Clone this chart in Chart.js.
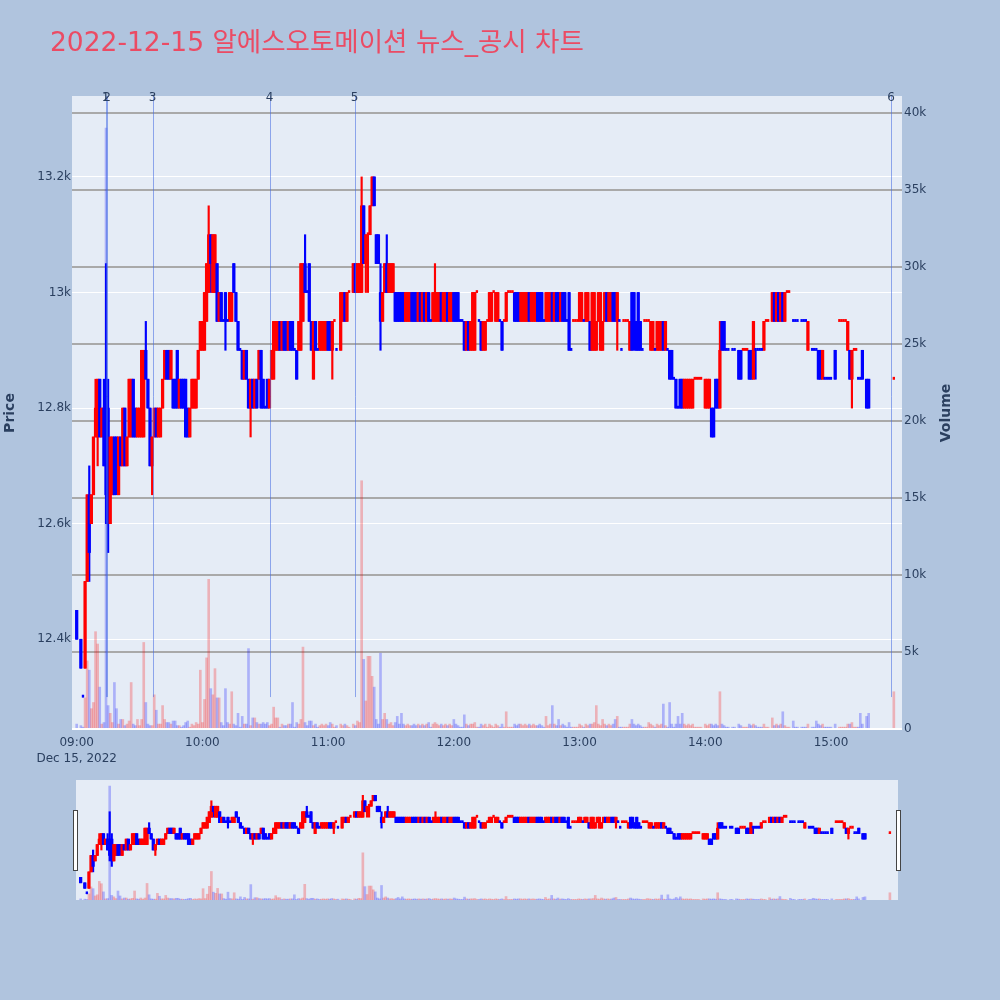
<!DOCTYPE html>
<html>
<head>
<meta charset="utf-8">
<title>2022-12-15 알에스오토메이션 뉴스_공시 차트</title>
<script src="https://cdn.jsdelivr.net/npm/chart.js@4.4.1/dist/chart.umd.min.js"></script>
<style>
  html, body { margin:0; padding:0; background:#B0C4DE; }
  body { width:1000px; height:1000px; position:relative; overflow:hidden; }
  #main { position:absolute; left:0; top:0; width:1000px; height:775px; }
  #mini { position:absolute; left:66px; top:774px; width:842px; height:132px; }
</style>
</head>
<body>
<canvas id="main" width="1000" height="775"></canvas>
<canvas id="mini" width="842" height="132"></canvas>
<script>
const chartTitle = "2022-12-15 알에스오토메이션 뉴스_공시 차트";

const times = [
"09:00","09:01","09:02","09:03","09:04","09:05","09:06","09:07","09:08","09:09",
"09:10","09:11","09:12","09:13","09:14","09:15","09:16","09:17","09:18","09:19",
"09:20","09:21","09:22","09:23","09:24","09:25","09:26","09:27","09:28","09:29",
"09:30","09:31","09:32","09:33","09:34","09:35","09:36","09:37","09:38","09:39",
"09:40","09:41","09:42","09:43","09:44","09:45","09:46","09:47","09:48","09:49",
"09:50","09:51","09:52","09:53","09:54","09:55","09:56","09:57","09:58","09:59",
"10:00","10:01","10:02","10:03","10:04","10:05","10:06","10:07","10:08","10:09",
"10:10","10:11","10:12","10:13","10:14","10:15","10:16","10:17","10:18","10:19",
"10:20","10:21","10:22","10:23","10:24","10:25","10:26","10:27","10:28","10:29",
"10:30","10:31","10:32","10:33","10:34","10:35","10:36","10:37","10:38","10:39",
"10:40","10:41","10:42","10:43","10:44","10:45","10:46","10:47","10:48","10:49",
"10:50","10:51","10:52","10:53","10:54","10:55","10:56","10:57","10:58","10:59",
"11:00","11:01","11:02","11:03","11:04","11:05","11:06","11:07","11:08","11:09",
"11:10","11:11","11:12","11:13","11:14","11:15","11:16","11:17","11:18","11:19",
"11:20","11:21","11:22","11:23","11:24","11:25","11:26","11:27","11:28","11:29",
"11:30","11:31","11:32","11:33","11:34","11:35","11:36","11:37","11:38","11:39",
"11:40","11:41","11:42","11:43","11:44","11:45","11:46","11:47","11:48","11:49",
"11:50","11:51","11:52","11:53","11:54","11:55","11:56","11:57","11:58","11:59",
"12:00","12:01","12:02","12:03","12:04","12:05","12:06","12:07","12:08","12:09",
"12:10","12:11","12:12","12:13","12:14","12:15","12:16","12:17","12:18","12:19",
"12:20","12:21","12:22","12:23","12:24","12:25","12:26","12:27","12:28","12:29",
"12:30","12:31","12:32","12:33","12:34","12:35","12:36","12:37","12:38","12:39",
"12:40","12:41","12:42","12:43","12:44","12:45","12:46","12:47","12:48","12:49",
"12:50","12:51","12:52","12:53","12:54","12:55","12:56","12:57","12:58","12:59",
"13:00","13:01","13:02","13:03","13:04","13:05","13:06","13:07","13:08","13:09",
"13:10","13:11","13:12","13:13","13:14","13:15","13:16","13:17","13:18","13:19",
"13:20","13:21","13:22","13:23","13:24","13:25","13:26","13:27","13:28","13:29",
"13:30","13:31","13:32","13:33","13:34","13:35","13:36","13:37","13:38","13:39",
"13:40","13:41","13:42","13:43","13:44","13:45","13:46","13:47","13:48","13:49",
"13:50","13:51","13:52","13:53","13:54","13:55","13:56","13:57","13:58","13:59",
"14:00","14:01","14:02","14:03","14:04","14:05","14:06","14:07","14:08","14:09",
"14:10","14:11","14:12","14:13","14:14","14:15","14:16","14:17","14:18","14:19",
"14:20","14:21","14:22","14:23","14:24","14:25","14:26","14:27","14:28","14:29",
"14:30","14:31","14:32","14:33","14:34","14:35","14:36","14:37","14:38","14:39",
"14:40","14:41","14:42","14:43","14:44","14:45","14:46","14:47","14:48","14:49",
"14:50","14:51","14:52","14:53","14:54","14:55","14:56","14:57","14:58","14:59",
"15:00","15:01","15:02","15:03","15:04","15:05","15:06","15:07","15:08","15:09",
"15:10","15:11","15:12","15:13","15:14","15:15","15:16","15:17","15:18","15:19",
"15:20","15:21","15:22","15:23","15:24","15:25","15:26","15:27","15:28","15:29",
"15:30"
];

const open = [
12450,null,12400,12300,12350,12500,12650,12600,12650,12750,
12750,12850,12750,12800,12800,12800,12600,12650,12750,12750,
12650,12750,12700,12800,12700,12750,12750,12850,12800,12750,
12750,12750,12750,12900,12850,12800,12700,12750,12800,12750,
12750,12800,12850,12900,12900,12850,12850,12850,12900,12800,
12850,12850,12850,12800,12750,12800,12800,12800,12850,12900,
12900,12900,12950,13000,13100,13000,13000,13050,12950,13000,
12950,13000,12950,12950,12950,13050,13000,12950,12900,12900,
12850,12900,12850,12800,12850,12800,12850,12850,12900,12850,
12800,12850,12800,12850,12850,12900,12900,12950,12900,12950,
12950,12900,12950,12950,12900,12900,12900,12900,12950,13050,
13000,13050,12950,12850,12950,12900,12900,12900,12900,12900,
12950,12950,12900,12950,12900,null,12900,12950,13000,12950,
13000,null,13000,13050,13000,13000,13000,13150,13050,13100,
13100,13150,13200,13100,13100,13000,12950,13000,13050,13000,
13000,13000,13000,13000,13000,13000,13000,12950,12950,12950,
13000,13000,13000,12950,13000,12950,13000,12950,13000,12950,
12950,12950,12950,12950,13000,12950,12950,13000,12950,12950,
13000,13000,13000,12950,12950,12950,12900,12950,12900,12900,
12900,13000,12950,12950,12900,12900,12950,12950,12950,13000,
12950,12950,12950,12950,12950,12950,13000,13000,13000,13000,
13000,13000,12950,12950,12950,12950,13000,12950,12950,12950,
13000,13000,13000,12950,12950,12950,12950,13000,12950,13000,
13000,12950,13000,13000,12950,13000,12900,12950,12950,12950,
12950,12950,12950,12950,12950,12950,12900,12900,12900,12950,
12900,12900,12950,13000,12950,12950,13000,13000,12950,12950,
12900,12950,12950,12950,12900,13000,13000,12950,13000,12950,
12900,12950,12950,12950,12900,12900,12900,12900,12900,12900,
12950,12900,12900,12900,12900,12850,12850,12800,12850,12850,
12800,12800,12800,12800,12800,12850,12850,12850,12850,null,
12800,12800,12800,12800,12800,12850,12850,12800,12950,12950,
12900,12900,null,12900,12900,null,12900,12900,12900,12900,
12900,12900,12900,12850,12900,12900,12900,12900,12900,12950,
12950,null,12950,13000,12950,13000,12950,13000,12950,13000,
13000,null,12950,12950,12950,null,12950,12950,12950,12900,
null,12900,12900,12900,12900,12900,12850,12850,12850,12850,
12850,null,12900,null,12950,12950,12950,12950,12900,12900,
12850,12900,12900,12850,12850,12900,null,12850,12850,null,
null,null,null,null,null,null,null,null,null,null,
12850
];

const high = [
12450,null,12400,12300,12500,12650,12700,12650,12750,12850,
12850,12850,12800,12850,13050,12850,12750,12750,12750,12750,
12750,12750,12800,12800,12750,12850,12850,12850,12800,12800,
12800,12900,12900,12950,12850,12800,12750,12800,12800,12800,
12800,12850,12900,12900,12900,12900,12850,12850,12900,12850,
12850,12850,12850,12800,12800,12850,12850,12850,12900,12950,
12950,13000,13050,13150,13100,13100,13100,13050,13000,13000,
12950,13000,12950,13000,13000,13050,13000,12950,12900,12900,
12900,12900,12850,12850,12850,12850,12850,12900,12900,12850,
12800,12850,12850,12900,12950,12950,12950,12950,12950,12950,
12950,12950,12950,12950,12900,12900,12950,13050,13050,13100,
13000,13050,12950,12950,12950,12900,12950,12950,12950,12950,
12950,12950,12950,12950,12900,null,13000,13000,13000,13000,
13000,null,13050,13050,13050,13050,13200,13150,13100,13100,
13150,13200,13200,13100,13100,13050,13000,13050,13100,13050,
13050,13050,13000,13000,13000,13000,13000,13000,13000,13000,
13000,13000,13000,13000,13000,13000,13000,13000,13000,12950,
13000,13050,13000,13000,13000,13000,13000,13000,13000,13000,
13000,13000,13000,12950,12950,12950,12950,12950,12950,13000,
13000,13000,12950,12950,12950,12950,12950,13000,13000,13000,
13000,13000,12950,12950,12950,13000,13000,13000,13000,13000,
13000,13000,13000,13000,13000,13000,13000,13000,13000,13000,
13000,13000,13000,12950,13000,13000,13000,13000,13000,13000,
13000,13000,13000,13000,12950,13000,12900,12950,12950,12950,
13000,13000,12950,13000,13000,12950,13000,13000,12950,13000,
13000,12950,13000,13000,13000,13000,13000,13000,13000,12950,
12900,12950,12950,12950,12950,13000,13000,12950,13000,12950,
12900,12950,12950,12950,12950,12950,12900,12950,12950,12950,
12950,12950,12900,12900,12900,12850,12850,12800,12850,12850,
12850,12850,12850,12850,12850,12850,12850,12850,12850,null,
12850,12850,12850,12800,12800,12850,12850,12950,12950,12950,
12900,12900,null,12900,12900,null,12900,12900,12900,12900,
12900,12900,12900,12950,12900,12900,12900,12900,12950,12950,
12950,null,13000,13000,13000,13000,13000,13000,13000,13000,
13000,null,12950,12950,12950,null,12950,12950,12950,12950,
null,12900,12900,12900,12900,12900,12900,12850,12850,12850,
12850,null,12900,null,12950,12950,12950,12950,12950,12900,
12900,12900,12900,12850,12850,12900,null,12850,12850,null,
null,null,null,null,null,null,null,null,null,null,
12850
];

const low = [
12400,null,12350,12300,12350,12500,12500,12600,12650,12750,
12700,12750,12750,12700,12600,12550,12600,12650,12650,12650,
12650,12700,12700,12700,12700,12750,12750,12750,12750,12750,
12750,12750,12750,12850,12800,12700,12650,12750,12750,12750,
12750,12800,12850,12850,12850,12850,12800,12800,12800,12800,
12800,12800,12750,12750,12750,12800,12800,12800,12850,12900,
12900,12900,12950,13000,13000,13000,13000,12950,12950,12950,
12950,12900,12950,12950,12950,13000,12950,12900,12900,12850,
12850,12850,12800,12750,12800,12800,12800,12850,12800,12800,
12800,12800,12800,12850,12850,12900,12900,12900,12900,12900,
12900,12900,12900,12900,12900,12850,12900,12900,12950,13000,
13000,12950,12900,12850,12900,12900,12900,12900,12900,12900,
12900,12900,12850,12950,12900,null,12900,12950,12950,12950,
13000,null,13000,13000,13000,13000,13000,13050,13000,13000,
13100,13150,13150,13050,13050,12900,12950,13000,13000,13000,
13000,13000,12950,12950,12950,12950,12950,12950,12950,12950,
12950,12950,12950,12950,12950,12950,12950,12950,12950,12950,
12950,12950,12950,12950,12950,12950,12950,12950,12950,12950,
12950,12950,12950,12950,12950,12900,12900,12900,12900,12900,
12900,13000,12950,12900,12900,12900,12950,12950,12950,13000,
12950,12950,12950,12900,12950,12950,13000,13000,13000,12950,
12950,12950,12950,12950,12950,12950,12950,12950,12950,12950,
12950,12950,12950,12950,12950,12950,12950,12950,12950,12950,
12950,12950,12950,12950,12950,12900,12900,12950,12950,12950,
12950,12950,12950,12950,12950,12900,12900,12900,12900,12950,
12900,12900,12950,12950,12950,12950,12950,12950,12900,12950,
12900,12950,12950,12950,12900,12900,12900,12900,12900,12900,
12900,12950,12950,12950,12900,12900,12900,12900,12900,12900,
12900,12900,12900,12850,12850,12850,12800,12800,12800,12800,
12800,12800,12800,12800,12800,12850,12850,12850,12850,null,
12800,12800,12800,12750,12750,12800,12800,12800,12900,12900,
12900,12900,null,12900,12900,null,12850,12850,12900,12900,
12900,12850,12850,12850,12850,12900,12900,12900,12900,12950,
12950,null,12950,12950,12950,12950,12950,12950,12950,13000,
13000,null,12950,12950,12950,null,12950,12950,12950,12900,
null,12900,12900,12900,12850,12850,12850,12850,12850,12850,
12850,null,12850,null,12950,12950,12950,12950,12900,12850,
12800,12900,12900,12850,12850,12850,null,12800,12800,null,
null,null,null,null,null,null,null,null,null,null,
12850
];

const close = [
12400,null,12350,12300,12500,12650,12550,12650,12750,12800,
12850,12750,12800,12700,12650,12600,12750,12750,12650,12700,
12750,12700,12800,12700,12750,12850,12850,12750,12750,12800,
12800,12900,12900,12850,12800,12700,12750,12800,12750,12800,
12800,12850,12900,12850,12850,12900,12800,12800,12800,12850,
12800,12800,12750,12750,12800,12850,12850,12850,12900,12950,
12950,13000,13050,13100,13050,13100,13100,12950,13000,12950,
12950,12950,12950,13000,13000,13000,12950,12900,12900,12850,
12900,12850,12800,12850,12800,12850,12800,12900,12800,12800,
12800,12800,12850,12900,12950,12950,12950,12900,12950,12900,
12900,12950,12900,12900,12900,12850,12950,13050,13050,13000,
13000,12950,12900,12950,12900,12900,12950,12950,12950,12950,
12900,12900,12950,12950,12900,null,13000,13000,12950,13000,
13000,null,13050,13000,13050,13050,13150,13050,13100,13100,
13150,13200,13150,13050,13050,12950,13000,13050,13000,13050,
13050,13050,12950,12950,12950,12950,12950,13000,13000,13000,
12950,12950,12950,13000,12950,13000,12950,13000,12950,12950,
13000,13000,13000,13000,12950,13000,13000,12950,13000,13000,
12950,12950,12950,12950,12950,12900,12950,12900,12950,13000,
13000,13000,12950,12900,12950,12950,12950,13000,13000,13000,
13000,13000,12950,12900,12950,13000,13000,13000,13000,12950,
12950,12950,13000,13000,13000,13000,12950,13000,13000,13000,
12950,12950,12950,12950,13000,13000,13000,12950,13000,12950,
12950,13000,12950,12950,12950,12900,12900,12950,12950,12950,
13000,13000,12950,13000,13000,12900,13000,13000,12950,13000,
13000,12950,13000,12950,13000,13000,12950,12950,13000,12950,
12900,12950,12950,12950,12950,12900,12950,12900,12900,12900,
12900,12950,12950,12950,12950,12950,12900,12950,12950,12950,
12900,12950,12900,12850,12850,12850,12800,12800,12800,12800,
12850,12850,12850,12850,12850,12850,12850,12850,12850,null,
12850,12850,12850,12750,12750,12800,12800,12900,12900,12900,
12900,12900,null,12900,12900,null,12850,12850,12900,12900,
12900,12850,12850,12950,12900,12900,12900,12900,12950,12950,
12950,null,13000,12950,13000,12950,13000,12950,13000,13000,
13000,null,12950,12950,12950,null,12950,12950,12950,12950,
null,12900,12900,12900,12850,12850,12900,12850,12850,12850,
12850,null,12850,null,12950,12950,12950,12950,12950,12850,
12900,12900,12900,12850,12850,12850,null,12800,12800,null,
null,null,null,null,null,null,null,null,null,null,
12850
];

const volume = [
300,null,200,100,2000,4400,3800,1300,1700,6300,
5500,2700,300,400,39000,1500,1000,400,3000,1300,
300,600,600,200,300,500,3000,300,200,600,
200,600,5600,1700,300,200,200,2200,1200,300,
300,1500,600,400,400,300,500,500,200,200,
100,200,400,500,100,300,200,400,300,3800,
400,1900,4600,9700,2600,2200,3900,2000,2000,400,
200,2600,400,300,2400,300,200,1000,100,800,
300,300,5200,200,700,700,400,300,300,400,
300,400,200,300,1400,700,700,100,300,200,
200,300,300,1700,100,400,300,600,5300,400,
200,500,500,200,300,100,200,300,200,300,
200,400,300,100,200,null,300,200,300,200,
100,null,300,200,500,400,16100,4500,1800,4700,
4700,3400,2700,600,300,4900,600,1000,600,300,
400,200,400,800,300,1000,300,200,300,200,
200,300,200,300,200,300,200,300,400,100,
300,400,300,200,300,200,300,200,300,200,
600,300,200,100,100,900,300,200,300,300,
400,100,100,300,200,300,100,300,200,100,
300,200,100,300,100,1100,100,100,100,300,
200,300,300,200,300,200,300,200,300,200,
200,300,200,100,800,200,300,1500,300,200,
600,200,300,200,100,400,100,100,100,100,
300,200,100,300,200,300,300,400,1500,300,
200,600,300,200,300,200,300,600,800,100,
100,100,100,100,300,600,300,200,300,200,
100,100,100,400,300,200,100,300,200,300,
1600,200,100,1700,300,100,300,800,300,1000,
300,200,300,200,300,100,100,100,100,null,
300,200,300,300,200,300,200,2400,300,200,
100,100,null,100,100,null,300,200,100,100,
100,300,200,300,200,100,100,100,300,100,
100,null,700,200,300,200,300,1100,200,100,
100,null,500,100,100,null,100,100,100,300,
null,100,100,500,300,200,300,100,100,100,
100,null,300,null,100,100,100,100,300,300,
400,100,100,100,1000,300,null,800,1000,null,
null,null,null,null,null,null,null,null,null,null,
2400
];

const priceTicks = [12400, 12600, 12800, 13000, 13200];
const volumeTicks = [0, 5000, 10000, 15000, 20000, 25000, 30000, 35000, 40000];
const hourTicks = ["09:00", "10:00", "11:00", "12:00", "13:00", "14:00", "15:00"];
const dateLabel = "Dec 15, 2022";
const newsTimes = ["09:13:45", "09:14:30", "09:36:15", "10:32:05", "11:12:40", "15:28:40"];
const newsLabels = ["1", "2", "3", "4", "5", "6"];

// ---------- helpers ----------
const toMin = t => { const p = t.split(':').map(Number); return (p[0] - 9) * 60 + p[1] + (p[2] || 0) / 60; };
const xs = times.map(toMin);
const dayLow = Math.min(...low.filter(v => v !== null));

// plotly-like direction: close vs open, ties resolved by previous close
const isUp = [];
(function () {
  let prev = null, inc = true;
  for (let i = 0; i < close.length; i++) {
    const o = open[i], c = close[i];
    if (o !== null && c !== null) {
      if (c > o) inc = true;
      else if (c < o) inc = false;
      else if (prev !== null && c !== prev) inc = c > prev;
      prev = c;
    }
    isUp.push(inc);
  }
})();

const UP = '#FF0000', DOWN = '#0000FF';
const UP_V = 'rgba(255,0,0,0.25)', DOWN_V = 'rgba(0,0,255,0.25)';

function makeDatasets() {
  const idx = xs.map((x, i) => i).filter(i => open[i] !== null);
  const moving = idx.filter(i => open[i] !== close[i]);
  const flat = idx.filter(i => open[i] === close[i]);
  return [
    { type: 'bar', label: 'Volume', yAxisID: 'y1', order: 4, grouped: false, barThickness: 2,
      data: idx.map(i => ({ x: xs[i], y: volume[i], i })),
      backgroundColor: c => (isUp[c.raw.i] ? UP_V : DOWN_V) },
    { type: 'bar', label: 'Range', yAxisID: 'y', order: 3, grouped: false, barThickness: 1.5,
      data: idx.map(i => ({ x: xs[i], y: [low[i], high[i]], i })),
      backgroundColor: c => (isUp[c.raw.i] ? UP : DOWN) },
    { type: 'bar', label: 'Body', yAxisID: 'y', order: 2, grouped: false, barThickness: 2.6,
      data: moving.map(i => ({ x: xs[i], y: [open[i], close[i]], i })),
      backgroundColor: c => (isUp[c.raw.i] ? UP : DOWN) },
    { type: 'bar', label: 'Flat', yAxisID: 'y', order: 1, grouped: false, barThickness: 1.7, minBarLength: 2,
      data: flat.map(i => ({ x: xs[i], y: [open[i], close[i]], i })),
      backgroundColor: c => (isUp[c.raw.i] ? UP : DOWN) }
  ];
}

const X_MIN = -2.24, X_MAX = 393.9;
const P_MIN = 12243, P_MAX = 13340;
const V_MIN = -84, V_MAX = 41084;

Chart.defaults.font.family = '"DejaVu Sans", "Noto Sans CJK KR", sans-serif';
Chart.defaults.font.size = 12;
Chart.defaults.color = '#2a3f5f';

const plotBg = {
  id: 'plotBg',
  beforeDraw(chart) {
    const { ctx, chartArea: a } = chart;
    ctx.save();
    ctx.fillStyle = '#E5ECF6';
    ctx.fillRect(a.left, a.top, a.right - a.left, a.bottom - a.top);
    ctx.restore();
  }
};

const newsLines = {
  id: 'newsLines',
  afterDatasetsDraw(chart) {
    const { ctx, chartArea: a, scales } = chart;
    const yLow = scales.y.getPixelForValue(dayLow);
    ctx.save();
    ctx.strokeStyle = 'rgba(65,105,225,0.55)';
    ctx.lineWidth = 1;
    newsTimes.forEach(t => {
      const px = Math.round(scales.x.getPixelForValue(toMin(t))) + 0.5;
      ctx.beginPath(); ctx.moveTo(px, a.top); ctx.lineTo(px, yLow); ctx.stroke();
    });
    ctx.fillStyle = '#2a3f5f';
    ctx.font = '12px "DejaVu Sans", sans-serif';
    ctx.textAlign = 'center';
    ctx.textBaseline = 'alphabetic';
    newsTimes.forEach((t, k) => {
      ctx.fillText(newsLabels[k], scales.x.getPixelForValue(toMin(t)), a.top + 5);
    });
    ctx.restore();
  }
};

const texts = {
  id: 'texts',
  afterDraw(chart) {
    const { ctx, chartArea: a } = chart;
    ctx.save();
    ctx.fillStyle = '#EB4B64';
    ctx.font = '26.5px "DejaVu Sans", "Noto Sans CJK KR", sans-serif';
    ctx.textAlign = 'left';
    ctx.textBaseline = 'alphabetic';
    ctx.fillText(chartTitle, 50, 51);
    ctx.fillStyle = '#2a3f5f';
    ctx.font = 'bold 14px "DejaVu Sans", sans-serif';
    ctx.translate(946.5, (a.top + a.bottom) / 2);
    ctx.rotate(-Math.PI / 2);
    ctx.textAlign = 'center';
    ctx.textBaseline = 'middle';
    ctx.fillText('Volume', 0, 0);
    ctx.restore();
  }
};

new Chart(document.getElementById('main'), {
  type: 'bar',
  data: { datasets: makeDatasets() },
  options: {
    responsive: false, animation: false, devicePixelRatio: 1, events: [],
    layout: { padding: { left: 0, right: 45, top: 96, bottom: 0 } },
    plugins: { legend: { display: false }, tooltip: { enabled: false } },
    scales: {
      x: {
        type: 'linear', min: X_MIN, max: X_MAX, offset: false,
        grid: { display: false, drawTicks: false }, border: { display: false },
        afterBuildTicks: s => { s.ticks = hourTicks.map(t => ({ value: toMin(t) })); },
        ticks: { autoSkip: false, maxRotation: 0, minRotation: 0, padding: 5,
          font: { size: 12, lineHeight: 1.35 },
          callback: (v, i) => (i === 0 ? [hourTicks[0], dateLabel] : hourTicks[i]) },
        afterFit: s => { s.height = 45; }
      },
      y: {
        type: 'linear', position: 'left', min: P_MIN, max: P_MAX,
        grid: { color: '#FFFFFF', lineWidth: 1, drawTicks: false }, border: { display: false },
        afterBuildTicks: s => { s.ticks = priceTicks.map(v => ({ value: v })); },
        ticks: { padding: 1, callback: v => (v / 1000) + 'k' },
        title: { display: true, text: 'Price', font: { size: 14, weight: 'bold' }, padding: { top: 2, bottom: 0 } },
        afterFit: s => { s.width = 72; }
      },
      y1: {
        type: 'linear', position: 'right', min: V_MIN, max: V_MAX,
        grid: { color: c => (c.tick && c.tick.value === 0 ? '#FFFFFF' : '#A9A9A9'), lineWidth: 2, drawTicks: false },
        border: { display: false },
        afterBuildTicks: s => { s.ticks = volumeTicks.map(v => ({ value: v })); },
        ticks: { padding: 2, callback: v => (v === 0 ? '0' : (v / 1000) + 'k') },
        afterFit: s => { s.width = 53; }
      }
    }
  },
  plugins: [plotBg, newsLines, texts]
});

const handles = {
  id: 'handles',
  afterDraw(chart) {
    const { ctx, chartArea: a } = chart;
    const h = (a.bottom - a.top) / 2;
    const top = a.top + (a.bottom - a.top - h) / 2;
    ctx.save();
    ctx.fillStyle = '#FFFFFF';
    ctx.strokeStyle = '#444444';
    ctx.lineWidth = 1;
    [a.left - 3, a.right - 2].forEach(x0 => {
      ctx.fillRect(x0 + 0.5, top + 0.5, 4, h);
      ctx.strokeRect(x0 + 0.5, top + 0.5, 4, h);
    });
    ctx.restore();
  }
};

new Chart(document.getElementById('mini'), {
  type: 'bar',
  data: { datasets: makeDatasets() },
  options: {
    responsive: false, animation: false, devicePixelRatio: 1, events: [],
    layout: { padding: { left: 10, right: 10, top: 6, bottom: 6 } },
    plugins: { legend: { display: false }, tooltip: { enabled: false } },
    scales: {
      x: { type: 'linear', display: false, min: X_MIN, max: X_MAX, offset: false },
      y: { type: 'linear', display: false, min: P_MIN, max: P_MAX },
      y1: { type: 'linear', display: false, position: 'right', min: V_MIN, max: V_MAX }
    }
  },
  plugins: [plotBg, handles]
});
</script>
</body>
</html>
